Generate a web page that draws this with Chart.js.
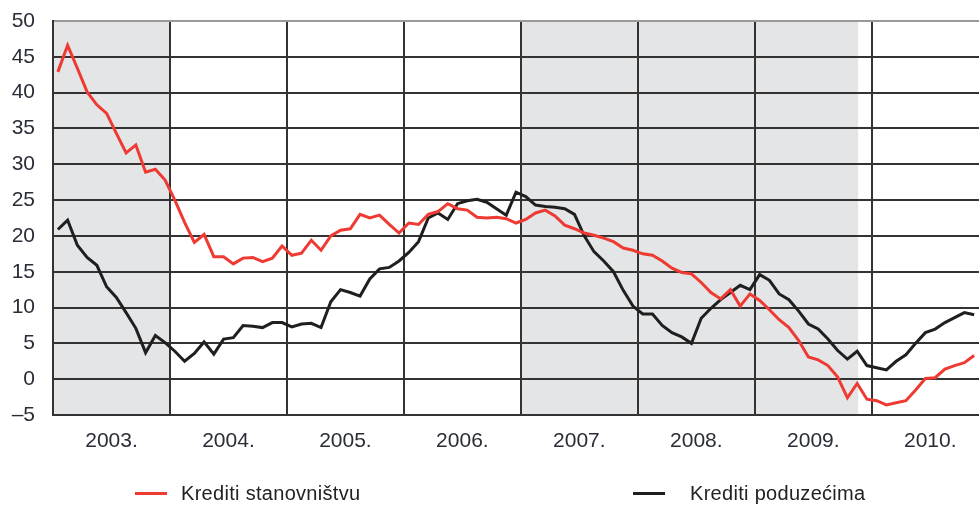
<!DOCTYPE html>
<html>
<head>
<meta charset="utf-8">
<script src="https://cdn.jsdelivr.net/npm/chart.js@4/dist/chart.umd.min.js"></script>
<style>
html,body{margin:0;padding:0;background:#fff;}
#wrap{position:relative;width:979px;height:506px;overflow:hidden;background:#fff;}
#c{position:absolute;left:0;top:0;}
.leg{position:absolute;font-family:"Liberation Sans",Arial,sans-serif;font-size:20px;color:#222;white-space:nowrap;line-height:24px;letter-spacing:0.3px;}
.sw{position:absolute;height:3px;}
</style>
</head>
<body>
<div id="wrap">
<canvas id="c" width="979" height="506"></canvas>
</div>
<script>
// ---- data (monthly, Jan 2003 – Nov 2010) ----
const yearLabels = ['2003.','2004.','2005.','2006.','2007.','2008.','2009.','2010.'];
const seriesNames = ['Krediti stanovništvu','Krediti poduzećima'];
const kreditiStanovnistvu = [
  42.9,46.6,43.4,40.1,38.3,37.1,34.3,31.6,32.7,28.9,29.3,27.8,
  25.0,21.9,19.1,20.2,17.1,17.1,16.1,16.9,17.0,16.4,16.9,18.6,
  17.3,17.6,19.4,18.0,20.0,20.8,21.0,23.0,22.5,22.9,21.6,20.4,
  21.8,21.6,23.0,23.4,24.5,23.8,23.6,22.6,22.5,22.6,22.4,21.8,
  22.3,23.2,23.6,22.8,21.5,21.0,20.4,20.1,19.7,19.2,18.3,18.0,
  17.5,17.3,16.5,15.5,14.9,14.7,13.5,12.1,11.2,12.5,10.2,11.9,
  11.0,9.7,8.3,7.2,5.4,3.1,2.7,1.9,0.3,-2.6,-0.6,-2.8,
  -3.0,-3.6,-3.3,-3.0,-1.5,0.1,0.2,1.4,1.9,2.3,3.3
];
const kreditiPoduzecima = [
  20.9,22.2,18.7,17.0,15.9,12.9,11.4,9.3,7.1,3.7,6.1,5.1,
  3.9,2.5,3.6,5.2,3.5,5.6,5.8,7.5,7.4,7.2,7.9,7.9,
  7.3,7.7,7.8,7.2,10.8,12.5,12.1,11.6,14.0,15.4,15.6,16.5,
  17.7,19.2,22.5,23.2,22.3,24.5,24.9,25.1,24.7,23.8,22.9,26.1,
  25.5,24.3,24.1,24.0,23.8,23.0,20.0,17.8,16.5,15.0,12.4,10.2,
  9.1,9.1,7.5,6.5,5.9,5.0,8.5,9.9,11.1,12.1,13.1,12.5,
  14.6,13.8,11.9,11.1,9.5,7.7,7.0,5.6,4.0,2.8,3.9,1.9,
  1.6,1.3,2.5,3.4,5.0,6.5,7.0,7.9,8.6,9.3,9.0
];
// shaded periods, in months from Jan 2003
const shadedPeriods = [[0,12],[48,82.6]];
const yMin = -5, yMax = 50, yStep = 5;
const monthsShown = 95;

const colors = ['#ee3a32','#1f1f1f'];
const gridColor = '#333333';

const toPoints = arr => arr.map((v,i) => ({x: i + 0.5, y: v}));

const shadePlugin = {
  id: 'shade',
  beforeDraw(chart) {
    const {ctx, chartArea: a, scales: {x}} = chart;
    ctx.save();
    ctx.fillStyle = '#e4e5e7';
    shadedPeriods.forEach(([s,e]) => {
      const x0 = x.getPixelForValue(s), x1 = x.getPixelForValue(e);
      ctx.fillRect(x0, a.top, x1 - x0, a.bottom - a.top);
    });
    ctx.restore();
  }
};

const fontFamily = '"Liberation Sans", Arial, sans-serif';

const chart = new Chart(document.getElementById('c'), {
  type: 'line',
  data: {
    datasets: [
      {label: seriesNames[0], data: toPoints(kreditiStanovnistvu), borderColor: colors[0], borderWidth: 3, pointRadius: 0, tension: 0, fill: false},
      {label: seriesNames[1], data: toPoints(kreditiPoduzecima), borderColor: colors[1], borderWidth: 3, pointRadius: 0, tension: 0, fill: false}
    ]
  },
  options: {
    responsive: false,
    animation: false,
    layout: {padding: {top: 21, right: 0, left: 0, bottom: 0}},
    plugins: {legend: {display: false}, tooltip: {enabled: false}},
    scales: {
      x: {
        type: 'linear', min: 0, max: monthsShown,
        afterBuildTicks: ax => {
          const t = [];
          yearLabels.forEach((_, k) => { t.push({value: k*12}); t.push({value: k*12 + 6}); });
          ax.ticks = t.filter(o => o.value <= monthsShown);
        },
        afterFit: s => { s.height = 91; },
        ticks: {
          autoSkip: false, maxRotation: 0, padding: 14, color: '#2a2d38',
          font: {family: fontFamily, size: 21},
          callback: v => (v % 12 === 6) ? yearLabels[(v - 6) / 12] : ''
        },
        grid: {
          drawTicks: false, lineWidth: 2,
          color: c => (c.tick && c.tick.value % 12 === 0) ? gridColor : 'rgba(0,0,0,0)'
        },
        border: {display: true, color: gridColor, width: 2}
      },
      y: {
        min: yMin, max: yMax,
        afterFit: s => { s.width = 53; },
        ticks: {
          stepSize: yStep, padding: 18, color: '#2a2d38',
          font: {family: fontFamily, size: 21, lineHeight: 0.2},
          callback: v => v < 0 ? '\u2013' + Math.abs(v) : String(v)
        },
        grid: {
          drawTicks: false, lineWidth: 2,
          color: c => (c.tick && c.tick.value === yMax) ? '#9a9a9a' : gridColor
        },
        border: {display: true, color: gridColor, width: 2}
      }
    }
  },
  plugins: [shadePlugin]
});

// legend built from the datasets
const wrap = document.getElementById('wrap');
const legPos = [{sw: 135, tx: 181}, {sw: 633, tx: 690}];
chart.data.datasets.forEach((ds, i) => {
  const sw = document.createElement('div');
  sw.className = 'sw';
  sw.style.left = legPos[i].sw + 'px';
  sw.style.top = '492px';
  sw.style.width = '32px';
  sw.style.background = ds.borderColor;
  wrap.appendChild(sw);
  const t = document.createElement('span');
  t.className = 'leg';
  t.style.left = legPos[i].tx + 'px';
  t.style.top = '481px';
  t.textContent = ds.label;
  wrap.appendChild(t);
});
</script>
</body>
</html>
